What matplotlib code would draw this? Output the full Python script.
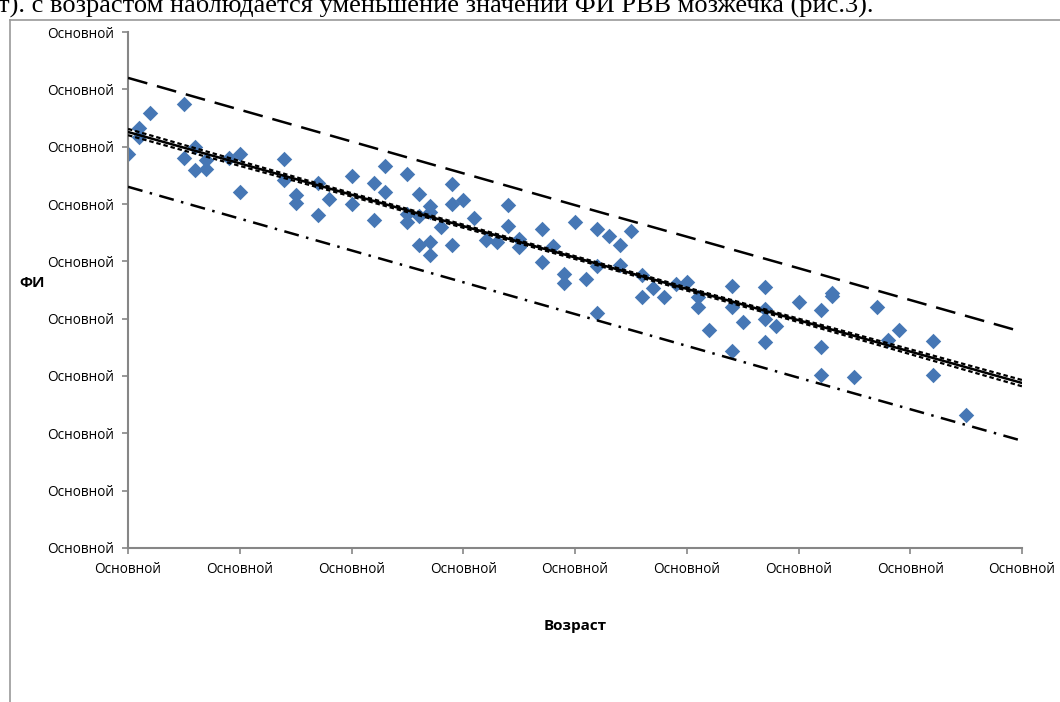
import numpy as np
import matplotlib.pyplot as plt
from matplotlib.lines import Line2D

# возраст (в делениях оси) и ФИ
age = [0, 1, 1, 2, 5, 5, 6, 6, 7, 7, 9, 10, 10, 14, 14, 15, 15, 17, 17, 18,
       20, 20, 22, 22, 23, 23, 25, 25, 25, 26, 26, 26, 27, 27, 27, 27, 28,
       29, 29, 29, 30, 31, 32, 33, 34, 34, 35, 35, 37, 37, 38, 39, 39, 40,
       41, 42, 42, 42, 43, 44, 44, 45, 46, 46, 47, 48, 49, 50, 51, 51, 52,
       54, 54, 54, 55, 57, 57, 57, 57, 58, 60, 62, 62, 62, 63, 63, 65, 67,
       68, 69, 72, 72, 75]
fi = [0.687, 0.733, 0.717, 0.759, 0.774, 0.680, 0.699, 0.659, 0.677, 0.661,
      0.680, 0.687, 0.621, 0.679, 0.642, 0.616, 0.602, 0.637, 0.581, 0.609,
      0.649, 0.600, 0.637, 0.572, 0.666, 0.621, 0.652, 0.583, 0.569, 0.617,
      0.579, 0.529, 0.597, 0.586, 0.534, 0.511, 0.560, 0.635, 0.600, 0.529,
      0.607, 0.576, 0.537, 0.534, 0.598, 0.562, 0.539, 0.525, 0.556, 0.499,
      0.527, 0.478, 0.462, 0.569, 0.469, 0.556, 0.492, 0.410, 0.544, 0.529,
      0.494, 0.553, 0.476, 0.438, 0.454, 0.438, 0.460, 0.464, 0.438, 0.420,
      0.380, 0.457, 0.420, 0.344, 0.394, 0.455, 0.417, 0.399, 0.359, 0.387,
      0.429, 0.415, 0.351, 0.302, 0.445, 0.440, 0.298, 0.420, 0.363, 0.380,
      0.361, 0.302, 0.232]

# линии тренда и границы интервалов
line_x = [0, 20, 40, 60, 80]
trend = [0.7256, 0.6162, 0.5067, 0.3973, 0.2878]
ci_up = [0.731, 0.619, 0.509, 0.400, 0.293]
ci_low = [0.720, 0.613, 0.504, 0.394, 0.282]
pred_up = [0.820, 0.709, 0.598, 0.488, 0.377]
pred_low = [0.630, 0.519, 0.408, 0.297, 0.187]

tick_label = "Основной"
x_ticks = np.arange(0, 81, 10)
y_ticks = np.arange(0, 0.91, 0.1)

gray = "#868686"

fig = plt.figure(figsize=(10.6, 7.02), dpi=100)
ax = fig.add_axes([0.1208, 0.2194, 0.8434, 0.735])

ax.scatter(age, fi, marker="D", s=62, color="#4677B5", linewidths=0, zorder=2)

ax.plot(line_x, trend, color="black", lw=1.8, zorder=3)
ax.plot(line_x, ci_up, color="black", lw=1.6, linestyle=(0, (2, 1.3)), zorder=3)
ax.plot(line_x, ci_low, color="black", lw=1.6, linestyle=(0, (2, 1.3)), zorder=3)
ax.plot(line_x, pred_up, color="black", lw=1.8, linestyle=(0, (8, 4)), zorder=3)
ax.plot(line_x, pred_low, color="black", lw=1.8, linestyle=(0, (6, 3, 1, 3)), zorder=3)

ax.set_xlim(0, 80)
ax.set_ylim(0, 0.9)
ax.set_xticks(x_ticks)
ax.set_yticks(y_ticks)
ax.set_xticklabels([tick_label] * len(x_ticks))
ax.set_yticklabels([tick_label] * len(y_ticks))

for s in ["top", "right"]:
    ax.spines[s].set_visible(False)
for s in ["left", "bottom"]:
    ax.spines[s].set_color(gray)
    ax.spines[s].set_linewidth(1.5)
ax.tick_params(axis="both", direction="out", length=4, width=1.2, color=gray,
               labelsize=9.8, labelcolor="black", pad=6)
for lab in ax.get_xticklabels() + ax.get_yticklabels():
    lab.set_fontfamily("Open Sans")

ax.set_xlabel("Возраст", fontsize=11, fontweight="bold", family="Open Sans", labelpad=30)
ax.set_ylabel("ФИ", fontsize=11, fontweight="bold", family="Open Sans", rotation=0,
              labelpad=0)
ax.yaxis.set_label_coords(-0.107, 0.5)

# рамка области диаграммы и обрезанный текст сверху
fig.add_artist(Line2D([10 / 1060, 10 / 1060], [0, 682 / 702], color="#9a9a9a", lw=1.2))
fig.add_artist(Line2D([10 / 1060, 1.0], [682 / 702, 682 / 702], color="#9a9a9a", lw=1.2))
fig.text(-0.002, 1 - 5 / 702, "т). с возрастом наблюдается уменьшение значений ФИ РВВ мозжечка (рис.3).",
         family="Liberation Serif", fontsize=19, va="center", ha="left")

fig.savefig("out.png", dpi=100)
